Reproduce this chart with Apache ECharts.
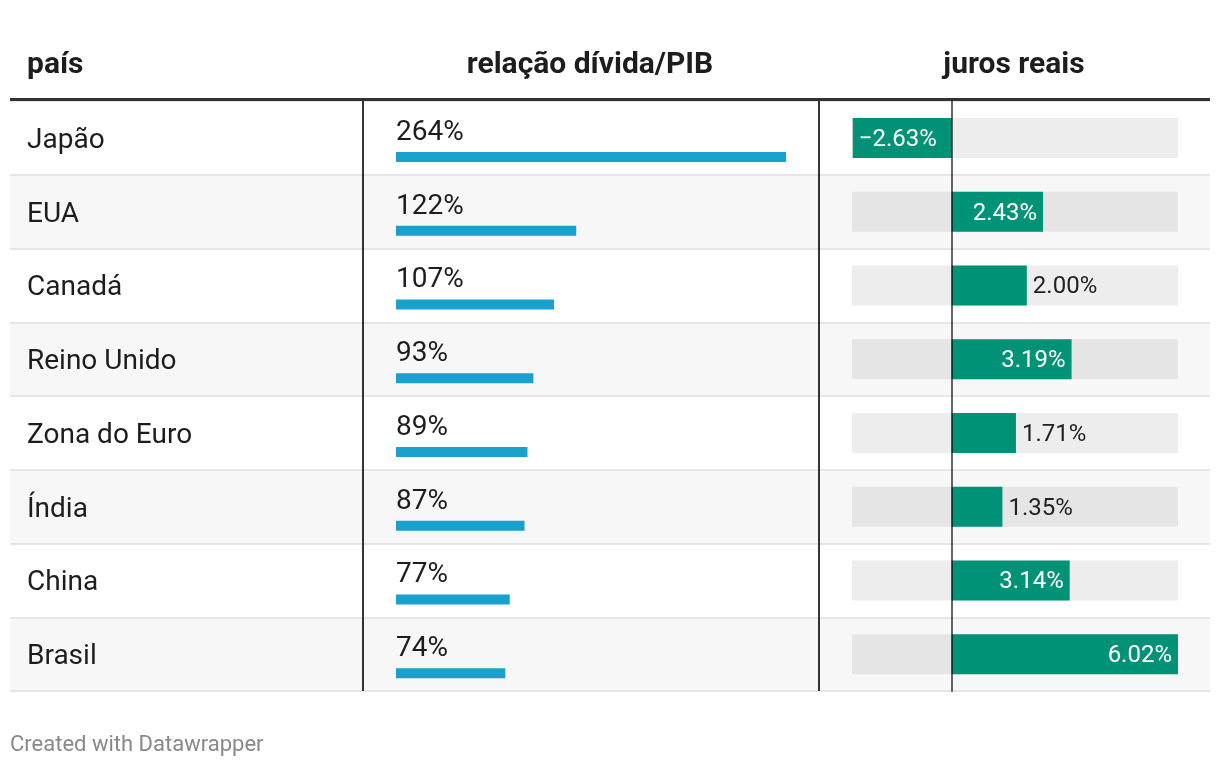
<!DOCTYPE html>
<html>
<head>
<meta charset="utf-8">
<script src="https://cdn.jsdelivr.net/npm/echarts@6/dist/echarts.min.js"></script>
<style>html,body{margin:0;padding:0;background:#fff}#c{width:1220px;height:768px}</style>
</head>
<body>
<div id="c"></div>
<script>
var countries = ['Japão','EUA','Canadá','Reino Unido','Zona do Euro','Índia','China','Brasil'];
var debtToGdp = [264,122,107,93,89,87,77,74];
var realRates = [-2.63,2.43,2.00,3.19,1.71,1.35,3.14,6.02];
var headers = ['país','relação dívida/PIB','juros reais'];
var footer = 'Created with Datawrapper';

var FONT = 'Roboto';
var chart = echarts.init(document.getElementById('c'), null, {renderer:'canvas'});

function fmtRate(v){ return (v<0?'\u2212':'') + Math.abs(v).toFixed(2) + '%'; }

var rateData = realRates.map(function(v){
  var inside = Math.abs(v) > 2.2;
  return {
    value: v,
    label: {
      position: v<0 ? 'insideLeft' : (inside ? 'insideRight' : 'right'),
      color: inside ? '#fff' : '#222',
      distance: 6
    }
  };
});

var headStyle = {fontFamily:FONT,fontSize:30,fontWeight:'bold',color:'#1d1d1d'};
var option = {
  animation:false,
  backgroundColor:'#fff',
  textStyle:{fontFamily:FONT},
  title:[
    {text:headers[0], left:27, top:50, padding:0, textStyle:headStyle},
    {text:headers[1], left:590, top:50, padding:0, textAlign:'center', textStyle:headStyle},
    {text:headers[2], left:1014, top:50, padding:0, textAlign:'center', textStyle:headStyle},
    {text:footer, left:10, top:734, padding:0, textStyle:{fontFamily:FONT,fontSize:22,fontWeight:'normal',color:'#888'}}
  ],
  grid:[
    {left:10, right:10, top:101, height:590},
    {left:396, width:390, top:120, height:590},
    {left:852, width:326, top:101, height:590},
    {left:10, right:10, top:104, height:590}
  ],
  xAxis:[
    {gridIndex:0, type:'value', min:0, max:1, show:false},
    {gridIndex:1, type:'value', min:0, max:264, show:false},
    {gridIndex:2, type:'value', min:-2.65, max:6.02, show:false, splitLine:{show:false}},
    {gridIndex:3, type:'value', min:0, max:1, show:false}
  ],
  yAxis:[
    {gridIndex:0, type:'category', data:countries, inverse:true,
     axisLine:{show:false}, axisTick:{show:false}, axisLabel:{show:false},
     splitLine:{show:true, lineStyle:{color:'#e6e6e6', width:2}},
     splitArea:{show:true, areaStyle:{color:['#ffffff','#f7f7f7']}}
    },
    {gridIndex:1, type:'category', data:countries, inverse:true, show:false},
    {gridIndex:2, type:'category', data:countries, inverse:true, z:5,
     axisLine:{show:true, onZero:true, lineStyle:{color:'rgba(0,0,0,0.6)', width:2}},
     axisTick:{show:false}, axisLabel:{show:false}, splitLine:{show:false}},
    {gridIndex:3, type:'category', data:countries, inverse:true,
     axisLine:{show:false}, axisTick:{show:false}, splitLine:{show:false}, splitArea:{show:false},
     axisLabel:{inside:true, margin:17, fontFamily:FONT, fontSize:28, color:'#1d1d1d'}}
  ],
  series:[
    {type:'bar', xAxisIndex:1, yAxisIndex:1, data:debtToGdp, barWidth:10,
     itemStyle:{color:'#18a1cd'},
     label:{show:true, position:[0,-5], align:'left', verticalAlign:'bottom',
            formatter:function(p){return p.value+'%';},
            fontFamily:FONT, fontSize:28, color:'#1d1d1d'}
    },
    {type:'bar', xAxisIndex:2, yAxisIndex:2, data:rateData, barWidth:40,
     showBackground:true, backgroundStyle:{color:'rgba(0,0,0,0.07)'},
     itemStyle:{color:'#009276'},
     label:{show:true, formatter:function(p){return fmtRate(p.value);}, fontFamily:FONT, fontSize:24, offset:[0,2]}
    }
  ],
  graphic:[
    {type:'line', z:10, shape:{x1:10,y1:99.5,x2:1210,y2:99.5}, style:{stroke:'#333',lineWidth:3}},
    {type:'line', z:10, shape:{x1:363,y1:101,x2:363,y2:691}, style:{stroke:'#333',lineWidth:2}},
    {type:'line', z:10, shape:{x1:819,y1:101,x2:819,y2:691}, style:{stroke:'#333',lineWidth:2}}
  ]
};
chart.setOption(option);
</script>
</body>
</html>
